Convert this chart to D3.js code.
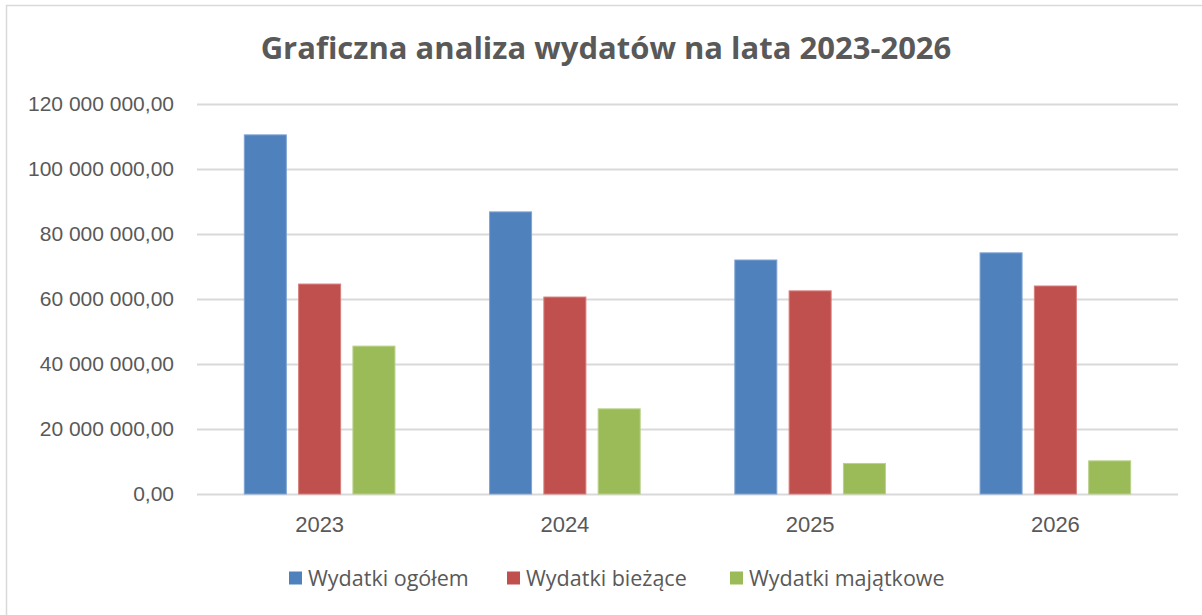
<!DOCTYPE html>
<html>
<head>
<meta charset="utf-8">
<script src="https://cdn.jsdelivr.net/npm/d3@7"></script>
<style>
  body { margin: 0; background: #fff; }
  svg { display: block; font-family: "Open Sans", sans-serif; }
</style>
</head>
<body>
<svg id="chart" width="1202" height="615"></svg>
<script>
var years = ["2023", "2024", "2025", "2026"];
var seriesNames = ["Wydatki ogółem", "Wydatki bieżące", "Wydatki majątkowe"];
var ogolem = [110500000, 86800000, 72000000, 74200000];
var biezace = [64600000, 60600000, 62500000, 64000000];
var majatkowe = [45500000, 26200000, 9400000, 10200000];
var yTicks = [0, 20000000, 40000000, 60000000, 80000000, 100000000, 120000000];
var colors = ["#4f81bd", "#c0504d", "#9bbb59"];
var strokes = ["#7fa3d3", "#d67f7c", "#b9d18a"];

var svg = d3.select("#chart");
var m = {t: 104, r: 24, b: 121, l: 197},
    w = 1202 - m.l - m.r,
    h = 615 - m.t - m.b;

// chart border (only top and left visible in the frame)
svg.append("rect")
    .attr("x", 6.5).attr("y", 5.5)
    .attr("width", 1210).attr("height", 620)
    .attr("fill", "none").attr("stroke", "#d9d9d9").attr("stroke-width", 1.5);

svg.append("text")
    .attr("x", 606).attr("y", 59)
    .attr("text-anchor", "middle")
    .attr("fill", "#595959")
    .style("font-size", "31px").style("font-weight", "bold")
    .text("Graficzna analiza wydatów na lata 2023-2026");

var g = svg.append("g").attr("transform", "translate(" + m.l + "," + m.t + ")");

var x0 = d3.scaleBand().domain(years).range([0, w]).padding(0);
var x1 = d3.scaleBand().domain(seriesNames).range([0, x0.bandwidth()])
    .paddingInner(0.208).paddingOuter(0.862);
var y = d3.scaleLinear().domain([0, 120000000]).range([h, 0]);

var fmt = function(v){
    var s = d3.format(",.2f")(v);
    return s.replace(/,/g, " ").replace(".", ",");
};

// gridlines + y labels
var yAxis = d3.axisLeft(y).tickValues(yTicks).tickSize(-w).tickPadding(23).tickFormat(fmt);
var ya = g.append("g").call(yAxis);
ya.select(".domain").remove();
ya.selectAll(".tick line").attr("stroke", "#d9d9d9").attr("stroke-width", 1.8);
ya.selectAll(".tick text").attr("fill", "#595959").style("font-size", "21px");

// x labels
var xAxis = d3.axisBottom(x0).tickSize(0).tickPadding(22);
var xa = g.append("g").attr("transform", "translate(0," + h + ")").call(xAxis);
xa.select(".domain").remove();
xa.selectAll(".tick text").attr("fill", "#595959").style("font-size", "22px");

var data = [ogolem, biezace, majatkowe];
years.forEach(function(yr, i){
    var grp = g.append("g").attr("transform", "translate(" + x0(yr) + ",0)");
    seriesNames.forEach(function(s, j){
        var v = data[j][i];
        grp.append("rect")
            .attr("x", x1(s) + 0.5)
            .attr("y", y(v))
            .attr("width", x1.bandwidth() - 1)
            .attr("height", h - y(v))
            .attr("fill", colors[j])
            .attr("stroke", strokes[j])
            .attr("stroke-width", 1);
    });
});

// legend
var legendX = [289, 507, 730];
var lg = svg.append("g");
seriesNames.forEach(function(s, j){
    var it = lg.append("g").attr("transform", "translate(" + legendX[j] + ",578)");
    it.append("rect").attr("x", 0).attr("y", -6.5).attr("width", 13).attr("height", 13)
        .attr("fill", colors[j]);
    it.append("text").attr("x", 19).attr("y", 0).attr("dy", "0.35em")
        .attr("fill", "#595959").style("font-size", "21.5px").text(s);
});
</script>
</body>
</html>
